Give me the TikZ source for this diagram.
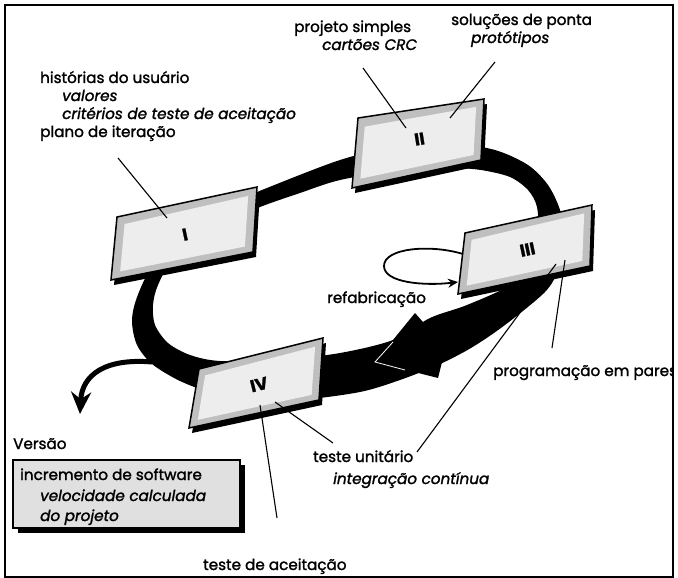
\documentclass[tikz,border=0pt]{standalone}
\usepackage{fontspec}
\setmainfont{Poppins}[FakeBold=1.6]
\usetikzlibrary{arrows.meta,calc}

% card: name, TL, TR, BR, BL, label, angle
\newcommand{\xpcard}[7]{%
	\coordinate (#1a) at #2; \coordinate (#1b) at #3;
	\coordinate (#1c) at #4; \coordinate (#1d) at #5;
	\fill[black] ([shift={(3,5)}]#1a) -- ([shift={(3,5)}]#1b) -- ([shift={(3,5)}]#1c) -- ([shift={(3,5)}]#1d) -- cycle;
	\filldraw[card] (#1a) -- (#1b) -- (#1c) -- (#1d) -- cycle;
	\fill[cardface] ($0.80*(#1a)+0.06*(#1b)+0.14*(#1d)$) -- ($0.83*(#1b)+0.06*(#1a)+0.11*(#1c)$)
		-- ($0.83*(#1c)+0.06*(#1d)+0.11*(#1b)$) -- ($0.83*(#1d)+0.06*(#1c)+0.11*(#1a)$) -- cycle;
	\node[cardlbl,rotate=#7] (#1) at ($(#1a)!0.5!(#1c)$) {#6};
}

\begin{document}
\begin{tikzpicture}
	[x=1pt,y=-1pt,
	lbl/.style={anchor=base west,inner sep=0,font=\fontsize{15.2}{17}\selectfont},
	it/.style={lbl,font=\fontsize{15.2}{17}\selectfont\itshape},
	card/.style={fill=black!25,draw=black,line width=1.5},
	cardface/.style={fill=black!7},
	cardlbl/.style={inner sep=0,font=\fontsize{17}{19}\selectfont\bfseries},
	leader/.style={line width=1.1}]
	\useasboundingbox (0,0) rectangle (678,578);
	\begin{scope}
	\clip (5,5) rectangle (673,577);
	
	% the cycle
	\fill[even odd rule]
	plot[smooth cycle] coordinates {(340,160) (400,146) (450,143) (495,150) (528,165) (548,185) (560,210) (565,240) (558,270) (545,292) (505,325) (471,348) (438,365) (400,380) (360,392) (300,400) (250,400) (215,394) (180,381) (152,364) (137,345) (132,322) (136,300) (150,270) (180,235) (220,208) (257,192)}
	plot[smooth cycle] coordinates {(340,180) (400,170) (450,168) (481,170) (510,177) (528,190) (537,207) (538,235) (530,260) (510,285) (467,305) (430,318) (393,340) (340,353) (280,360) (220,361) (190,355) (168,343) (155,325) (153,305) (158,285) (175,255) (210,228) (260,207) (300,193)};
	\coordinate (tip) at (375,362);
	\coordinate (wing1) at (415,313);
	\coordinate (wing2) at (438,378);
	\fill (tip) -- (wing1) -- (430,330) -- (445,350) -- (wing2) -- cycle;
	\draw[white,line width=0.8] (393,342) -- (tip) -- (405,370);
	
	% release
	\coordinate (rel) at (152,362);
	\coordinate (versao) at (80,414);
	\draw[line width=5,-{Stealth[length=22,width=20]}] (rel) .. controls (105,358) and (82,375) .. (versao);
	
	\xpcard{I}{(117,217)}{(257,187)}{(253,252)}{(111,280)}{I}{12}
	\xpcard{II}{(358,118)}{(484,99)}{(481,160)}{(352,188)}{II}{9}
	\xpcard{III}{(465,233)}{(592,205)}{(590,266)}{(458,294)}{III}{12}
	\xpcard{IV}{(199,369)}{(323,338)}{(319,400)}{(189,428)}{IV}{14}
	
	% refactoring loop
	\coordinate (rfa) at (463,254);
	\coordinate (rfb) at (458,282);
	\draw[line width=1.8,-{Stealth[length=10,width=9]}] (rfa) .. controls (430,244) and (384,248) .. (384,266) .. controls (384,283) and (425,286) .. (rfb);
	
	% texts
	\node[lbl] (hist) at (40,83) {histórias do usuário};
	\node[it] (val) at (62,101) {valores};
	\node[it] (crit) at (62,119) {critérios de teste de aceitação};
	\node[lbl] (plano) at (40,137) {plano de iteração};
	\node[lbl] (proj) at (294,32) {projeto simples};
	\node[it] (crc) at (322,50) {cartões CRC};
	\node[lbl] (sol) at (451,25) {soluções de ponta};
	\node[it] (prot) at (471,43) {protótipos};
	\node[lbl] (refab) at (327,303) {refabricação};
	\node[lbl] (pares) at (493,376) {programação em pares};
	\node[lbl] (unit) at (313,462) {teste unitário};
	\node[it] (integ) at (333,484) {integração contínua};
	\node[lbl] (aceit) at (203,570) {teste de aceitação};
	\node[lbl] (vers) at (13,449) {Versão};
	
	% leaders
	\coordinate (l1) at (118,158); \coordinate (e1) at (167,218);
	\coordinate (l2) at (363,68); \coordinate (e2) at (406,128);
	\coordinate (l3) at (495,62); \coordinate (e3) at (450,118);
	\coordinate (l4) at (552,348); \coordinate (e4) at (565,260);
	\coordinate (l5) at (417,452); \coordinate (e5) at (556,264);
	\coordinate (l6) at (333,443); \coordinate (e6) at (275,402);
	\coordinate (l7) at (277,518); \coordinate (e7) at (260,405);
	\path[leader,draw]
	(l1) -- (e1)
	(l2) -- (e2)
	(l3) -- (e3)
	(l4) -- (e4)
	(l5) -- (e5)
	(l6) -- (e6)
	(l7) -- (e7);
	
	% increment box
	\fill (18,465) rectangle (245,533);
	\draw[line width=1.2,fill=black!12] (13,460) rectangle (240,528);
	\node[lbl] (incr) at (20,480) {incremento de software};
	\node[it] (veloc) at (40,501) {velocidade calculada};
	\node[it] (doproj) at (40,521) {do projeto};
	\end{scope}
	
	\draw[line width=2.5] (5,5) rectangle (673,577);
\end{tikzpicture}
\end{document}
